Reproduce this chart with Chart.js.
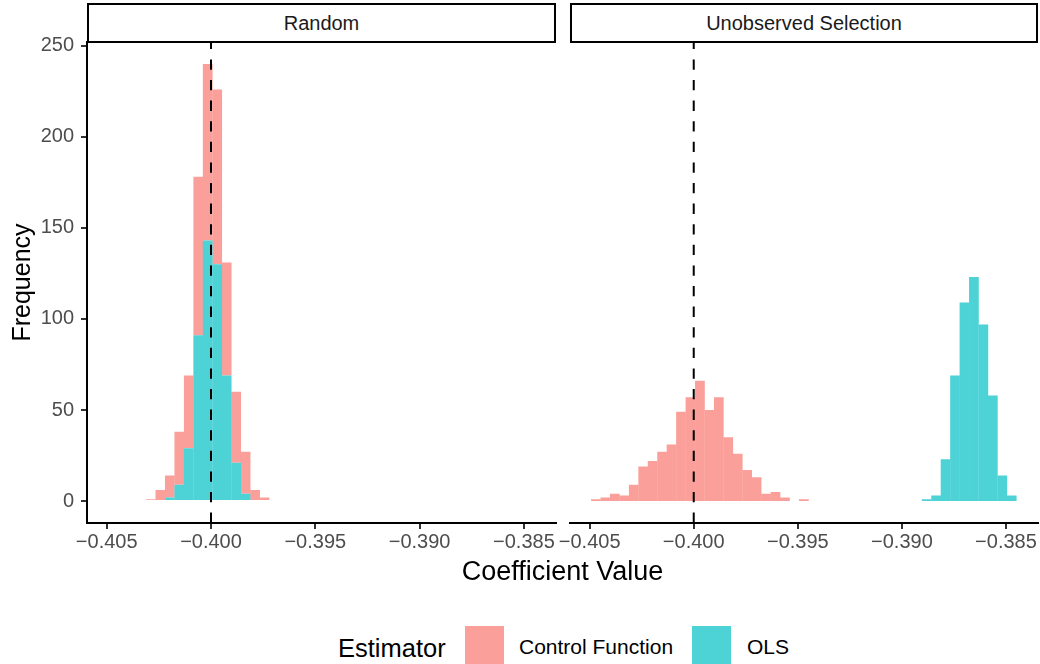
<!DOCTYPE html>
<html>
<head>
<meta charset="utf-8">
<script src="https://cdn.jsdelivr.net/npm/chart.js@4.4.1/dist/chart.umd.min.js"></script>
<style>
  html, body { margin: 0; padding: 0; background: #fff; }
  body { width: 1040px; height: 664px; position: relative; overflow: hidden;
         font-family: "Liberation Sans", Arial, sans-serif; }
  canvas { position: absolute; top: 20px; }
  #histRandom { left: 0; }
  #histSelect { left: 555px; }
  .strip { position: absolute; top: 3px; height: 40px; box-sizing: border-box;
           border: 2px solid #000; background: #fff; z-index: 2;
           display: flex; align-items: center; justify-content: center;
           font-size: 20px; color: #1a1a1a; }
  .txt { position: absolute; white-space: nowrap; }
  .key { position: absolute; top: 626px; width: 39px; height: 39px; }
</style>
</head>
<body>
<div class="strip" style="left:87px;width:469px;">Random</div>
<div class="strip" style="left:570px;width:468px;">Unobserved Selection</div>
<canvas id="histRandom" width="560" height="580"></canvas>
<canvas id="histSelect" width="485" height="580"></canvas>
<div class="txt" style="left:87px;width:951px;top:556px;line-height:30px;font-size:27px;text-align:center;color:#000;">Coefficient Value</div>
<div class="txt" style="left:338px;top:633px;line-height:30px;font-size:25.5px;color:#000;">Estimator</div>
<div class="key" style="left:465px;background:#fa9f99;"></div>
<div class="txt" style="left:519px;top:635px;line-height:24px;font-size:21px;color:#000;">Control Function</div>
<div class="key" style="left:692px;background:#4dd2d6;"></div>
<div class="txt" style="left:747px;top:635px;line-height:24px;font-size:21px;color:#000;">OLS</div>

<script>
/* ===== data ===== */
// histogram bins are shared by both facets
const BIN_START = -0.404923;
const BIN_WIDTH = 0.0004539;
const TRUE_VALUE = -0.4;

const X_MIN = -0.405944, X_MAX = -0.383476;
const Y_MIN = -12, Y_MAX = 252;
const X_TICKS = [-0.405, -0.400, -0.395, -0.390, -0.385];
const Y_TICKS = [0, 50, 100, 150, 200, 250];

// counts per bin; *_FROM is the index of the first bin listed
const RANDOM_CF_FROM = 4;
const randomCF = [1, 6, 12, 29, 40, 87, 97, 96, 62, 39, 23, 6, 2];
const RANDOM_OLS_FROM = 6;
const randomOLS = [2, 9, 29, 91, 143, 130, 69, 21, 4];

const SELECT_CF_FROM = 0;
const selectCF = [1, 2, 4, 3, 9, 19, 22, 27, 31, 49, 57, 66, 50, 57, 35, 26, 17, 13, 4, 5, 2, 0, 1];
const SELECT_OLS_FROM = 35;
const selectOLS = [1, 3, 23, 69, 109, 123, 97, 58, 14, 3];

// 70% fills flattened onto white so neighbouring bars don't leave seams
const CF_FILL = '#fa9f99';
const OLS_FILL = '#4dd2d6';

/* ===== helpers ===== */
Chart.defaults.font.family = '"Liberation Sans", Arial, sans-serif';

const binPoints = (from, counts) =>
  counts.map((c, i) => ({ x: BIN_START + (from + i + 0.5) * BIN_WIDTH, y: c }));

// x labels use a real minus sign
const fmtCoef = v => v.toFixed(3).replace('-', '\u2212');

// vertical dashed reference line at the true coefficient
const trueValueLine = {
  id: 'trueValueLine',
  afterDatasetsDraw(chart) {
    const { ctx, chartArea, scales } = chart;
    const x = scales.x.getPixelForValue(TRUE_VALUE);
    ctx.save();
    ctx.strokeStyle = '#000';
    ctx.lineWidth = 2;
    ctx.setLineDash([10.3, 10.3]);
    ctx.beginPath();
    ctx.moveTo(x, chartArea.bottom);
    ctx.lineTo(x, chartArea.top);
    ctx.stroke();
    ctx.restore();
  }
};

function histogram(canvasId, cf, ols, withYAxis, padding) {
  const tickStyle = { drawOnChartArea: false, drawTicks: true, tickLength: 6, color: '#333', lineWidth: 2 };
  return new Chart(document.getElementById(canvasId), {
    type: 'bar',
    data: {
      datasets: [
        // OLS sits at the bottom of each stack, Control Function on top
        { label: 'OLS', data: ols, backgroundColor: OLS_FILL },
        { label: 'Control Function', data: cf, backgroundColor: CF_FILL }
      ]
    },
    options: {
      responsive: false,
      animation: false,
      layout: { padding },
      datasets: { bar: { barPercentage: 1.03, categoryPercentage: 1, borderWidth: 0 } },
      plugins: { legend: { display: false }, tooltip: { enabled: false } },
      scales: {
        x: {
          type: 'linear', stacked: true, offset: false,
          min: X_MIN, max: X_MAX,
          afterBuildTicks: s => { s.ticks = X_TICKS.map(v => ({ value: v })); },
          afterFit: s => { s.height = 77.1; },
          grid: { ...tickStyle, offset: false },
          border: { display: true, color: '#000', width: 2 },
          ticks: { color: '#4d4d4d', font: { size: 20 }, padding: 2, maxRotation: 0, autoSkip: false,
                   callback: fmtCoef }
        },
        y: {
          display: withYAxis, stacked: true,
          min: Y_MIN, max: Y_MAX,
          afterBuildTicks: s => { s.ticks = Y_TICKS.map(v => ({ value: v })); },
          afterFit: s => { if (withYAxis) s.width = 87; },
          grid: tickStyle,
          border: { display: true, color: '#000', width: 2 },
          ticks: { color: '#4d4d4d', font: { size: 20 }, padding: 7 },
          title: { display: true, text: 'Frequency', color: '#000', font: { size: 25 }, padding: { top: 8, bottom: 0 } }
        }
      }
    },
    plugins: [trueValueLine]
  });
}

histogram('histRandom',
  binPoints(RANDOM_CF_FROM, randomCF), binPoints(RANDOM_OLS_FROM, randomOLS),
  true, { top: 22.1, right: 4.3, bottom: 0, left: 0 });

histogram('histSelect',
  binPoints(SELECT_CF_FROM, selectCF), binPoints(SELECT_OLS_FROM, selectOLS),
  false, { top: 22.1, right: 2.3, bottom: 0, left: 15 });
</script>
</body>
</html>
